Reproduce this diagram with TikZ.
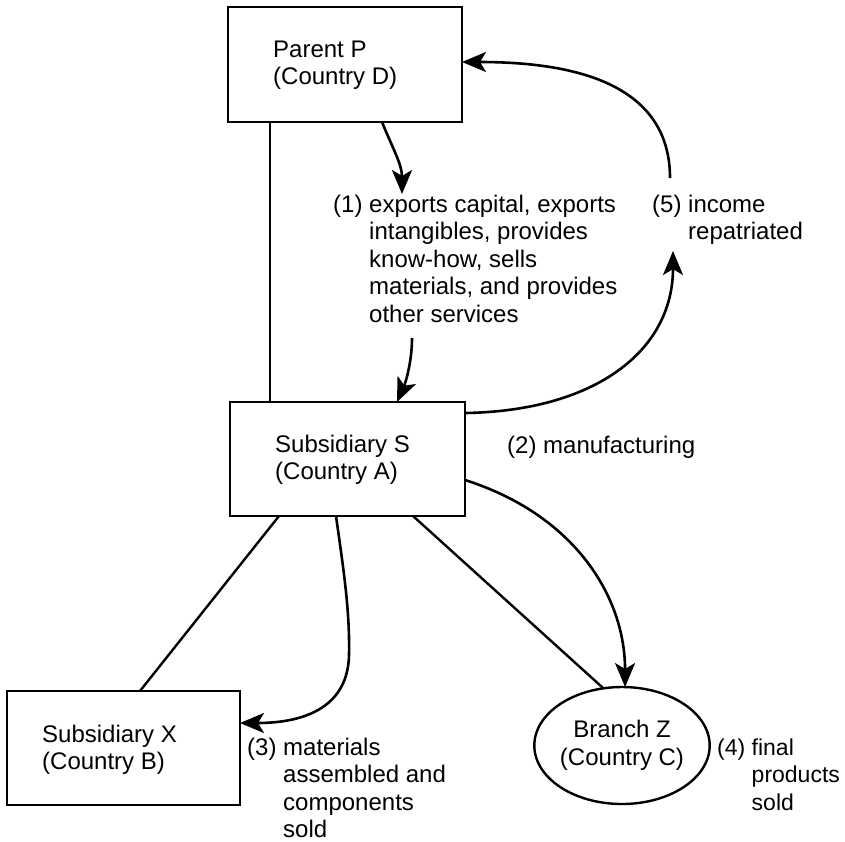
\documentclass[tikz,border=0pt]{standalone}
\usepackage{fontspec}
\setmainfont{Liberation Sans}
\usetikzlibrary{arrows.meta,shapes.geometric,calc}
\begin{document}
\begin{tikzpicture}[x=1pt,y=-1pt,
  box/.style={draw,line width=2.8pt,rectangle,inner sep=0pt,outer sep=0pt},
  oval/.style={draw,line width=2.4pt,ellipse,inner sep=0pt,outer sep=0pt,align=center,font=\fontsize{24}{27.5}\selectfont},
  lbl/.style={inner sep=0pt,anchor=base west,font=\fontsize{24}{27.5}\selectfont},
  conn/.style={line width=2.4pt},
  flow/.style={line width=2.6pt,-{Stealth[length=24pt,width=20pt,inset=6pt]}},
]
\useasboundingbox (0,0) rectangle (845,841);

% boxes
\node[box,minimum width=234,minimum height=115] (P) at (345,64.5) {};
\node[box,minimum width=235,minimum height=114] (S) at (347.5,459) {};
\node[box,minimum width=233,minimum height=114] (X) at (123.5,748) {};
\node[oval,minimum width=172,minimum height=117] (Z) at (622,745.5) {Branch Z\\(Country C)};

% box texts
\node[lbl] (Pt) at (273,57) {\begin{tabular}[t]{@{}l@{}}Parent P\\(Country D)\end{tabular}};
\node[lbl] (St) at (275,452) {\begin{tabular}[t]{@{}l@{}}Subsidiary S\\(Country A)\end{tabular}};
\node[lbl] (Xt) at (42,742) {\begin{tabular}[t]{@{}l@{}}Subsidiary X\\(Country B)\end{tabular}};

% labels
\node[lbl] (L1) at (333,212) {\begin{tabular}[t]{@{}l@{\ }l@{}}(1)&exports capital, exports\\&intangibles, provides\\&know-how, sells\\&materials, and provides\\&other services\end{tabular}};
\node[lbl] (L5) at (652,212) {\begin{tabular}[t]{@{}l@{\ }l@{}}(5)&income\\&repatriated\end{tabular}};
\node[lbl] (L2) at (507,453) {(2) manufacturing};
\node[lbl] (L3) at (247,755) {\begin{tabular}[t]{@{}l@{\ }l@{}}(3)&materials\\&assembled and\\&components\\&sold\end{tabular}};
\node[lbl,font=\fontsize{23}{27.5}\selectfont] (L4) at (717,755) {\begin{tabular}[t]{@{}l@{\ }l@{}}(4)&final\\&products\\&sold\end{tabular}};

% coordinates for free ends
\coordinate (a1) at (402,194);
\coordinate (b1) at (412,338);
\coordinate (c1) at (673,251);
\coordinate (d1) at (670,178);
\coordinate (e1) at (349,655);

% plain connectors
\coordinate (p1) at ($(P.south west)+(42,0)$);
\draw[conn] (p1) -- (p1 |- S.north);
\draw[conn] ($(S.south west)+(49,0)$) -- ($(X.north west)+(133,0)$);
\draw[conn] ($(S.south west)+(183,0)$) -- (Z.108);

% flows
\draw[flow] ($(P.south west)+(154,0)$) .. controls +(10,25) and +(0,-30) .. (a1);
\draw[flow] (b1) .. controls +(0,25) and +(8,-18) .. ($(S.north west)+(167,0)$);
\draw[flow] ($(S.north east)+(0,11)$) .. controls +(130,-2) and +(0,100) .. (c1);
\draw[flow] (d1) .. controls +(0,-100) and +(100,0) .. ($(P.east)+(0,-2.5)$);
\draw[flow] ($(S.south west)+(106,0)$) .. controls +(7,50) and +(1,-45) .. (e1)
  .. controls +(-1,50) and +(68,0) .. ($(X.east)+(0,-25)$);
\draw[flow] ($(S.east)+(0,21)$) .. controls +(110,35) and +(0,-90) .. (Z.87);
\end{tikzpicture}
\end{document}
